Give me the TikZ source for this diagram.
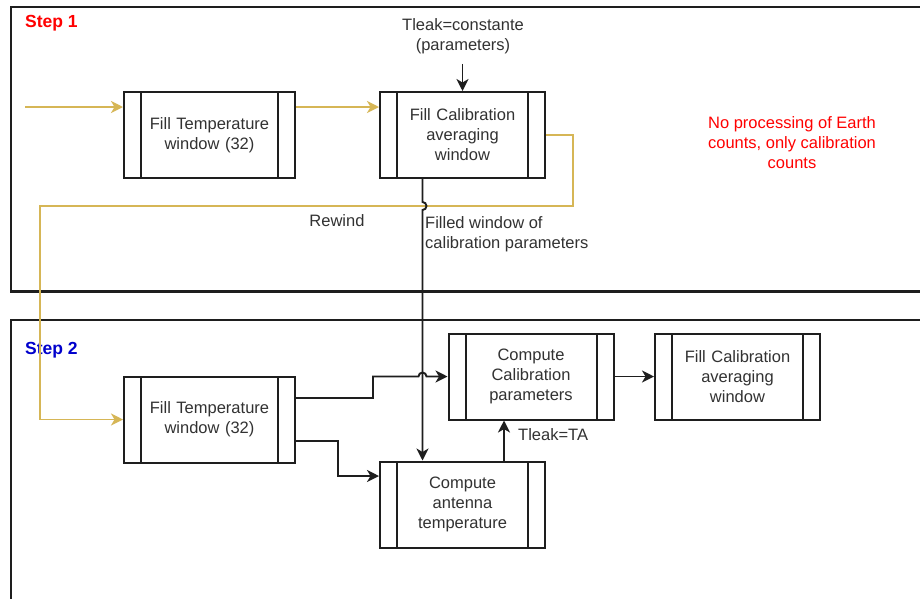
\documentclass[tikz,border=0pt]{standalone}
\usepackage{fontspec}
\setmainfont{Liberation Sans}
\usetikzlibrary{arrows.meta}

\definecolor{flowyellow}{RGB}{214,182,86}
\definecolor{stepred}{RGB}{255,0,0}
\definecolor{stepblue}{RGB}{0,0,204}
\definecolor{inkgray}{RGB}{30,30,30}
\definecolor{textgray}{RGB}{50,50,50}

\tikzset{
  base/.style={font=\fontsize{16.5}{20}\selectfont, text=textgray},
  procbox/.style={draw=inkgray, line width=2pt, rectangle, align=center,
    minimum height=86pt, inner sep=0pt,
    path picture={
      \draw[inkgray, line width=2pt]
        ([xshift=17pt]path picture bounding box.north west) --
        ([xshift=17pt]path picture bounding box.south west);
      \draw[inkgray, line width=2pt]
        ([xshift=-17pt]path picture bounding box.north east) --
        ([xshift=-17pt]path picture bounding box.south east);
    }},
  widebox/.style={procbox, minimum width=171pt, text width=130pt},
  narrowbox/.style={procbox, minimum width=165pt, text width=125pt},
  tip/.style={-{Stealth[length=12pt,width=12pt,inset=3.5pt]}},
  flow/.style={draw=inkgray, line width=1.9pt, tip},
  loopflow/.style={draw=flowyellow, line width=1.9pt, tip},
  frame/.style={draw=inkgray, line width=2.2pt},
  lbl/.style={base, inner sep=0pt},
  steplbl/.style={font=\fontsize{17.5}{20}\selectfont\bfseries, inner sep=0pt, anchor=west},
}

\begin{document}
\begin{tikzpicture}[x=1pt, y=-1pt, base]
  \useasboundingbox (0,0) rectangle (920,598);
  \clip (0,0) rectangle (920,598);
  \fill[white] (0,0) rectangle (920,598);

  % the two stage frames, open to the right and below
  \draw[frame] (930,7) -- (11,7) -- (11,291.5) -- (930,291.5);
  \draw[frame] (930,320) -- (11,320) -- (11,610);

  \node[steplbl, text=stepred]  (s1) at (25,23)  {Step 1};
  \node[steplbl, text=stepblue] (s2) at (25,350) {Step 2};

  % stage 1 processes
  \node[widebox]   (ft1) at (209.5,135) {Fill Temperature\\window (32)};
  \node[narrowbox] (fc1) at (462.5,135) {Fill Calibration\\averaging\\window};
  \node[lbl, align=center] (tl) at (463,36) {Tleak=constante\\(parameters)};
  \node[lbl, text=stepred, align=center] (note) at (792,143)
    {No processing of Earth\\counts, only calibration\\counts};

  % stage 2 processes
  \node[widebox]   (ft2) at (209.5,419.5) {Fill Temperature\\window (32)};
  \node[narrowbox] (ccp) at (531,376.5)   {Compute\\Calibration\\parameters};
  \node[narrowbox] (fc2) at (737.5,376.5) {Fill Calibration\\averaging\\window};
  \node[narrowbox] (cat) at (462.5,504.5) {Compute\\antenna\\temperature};

  % stage 1 flow
  \coordinate (in) at (25,107);
  \draw[loopflow] (in) -- ([yshift=28pt]ft1.west);
  \draw[loopflow] ([yshift=28pt]ft1.east) -- ([yshift=28pt]fc1.west);
  \draw[flow] ([yshift=-10pt]tl.south -| fc1.north) -- (fc1.north);

  % rewind loop back to stage 2
  \coordinate (r1) at (573,135);
  \coordinate (r2) at (573,206);
  \coordinate (r3) at (40,206);
  \draw[loopflow] (fc1.east) -- (r1) -- (r2) -- (r3) |- (ft2.west);
  \node[lbl] (rw) at (337,221) {Rewind};

  % filled window handed down to stage 2, hopping over the rewind line
  \draw[flow] ([xshift=-40pt]fc1.south) -- (422.5,202)
    arc[start angle=90, end angle=-90, radius=4pt] -- ([xshift=-40pt]cat.north);
  \node[lbl, anchor=west, align=left] (fw) at (425,234.5)
    {Filled window of\\calibration parameters};

  % stage 2 flow
  \coordinate (a1) at (373,398);
  \coordinate (a2) at (373,376.5);
  \draw[flow] ([yshift=21.5pt]ft2.east) -- (a1) -- (a2) -- (418.5,376.5)
    arc[start angle=180, end angle=0, radius=4pt] -- (ccp.west);
  \coordinate (b1) at (338,441);
  \coordinate (b2) at (338,476);
  \draw[flow] ([yshift=-21.5pt]ft2.east) -- (b1) -- (b2) -- ([yshift=28.5pt]cat.west);
  \draw[flow] ([xshift=41.5pt]cat.north) -- ([xshift=41.5pt]cat.north |- ccp.south);
  \node[lbl, anchor=west] (ta) at (518,435) {Tleak=TA};
  \draw[flow] (ccp.east) -- (fc2.west);
\end{tikzpicture}
\end{document}
